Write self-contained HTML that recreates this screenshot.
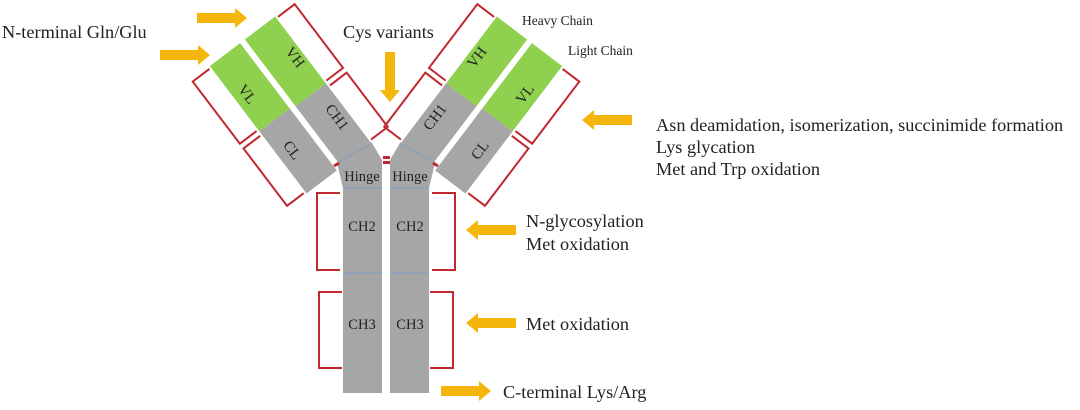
<!DOCTYPE html>
<html><head><meta charset="utf-8"><style>
html,body{margin:0;padding:0;background:#fff;width:1080px;height:410px;overflow:hidden}
svg{display:block}
text{font-family:"Liberation Serif",serif;fill:#222}
</style></head><body>
<svg width="1080" height="410" viewBox="0 0 1080 410" xmlns="http://www.w3.org/2000/svg">
<defs>
<g id="arm">
  <g transform="translate(260,28) rotate(52.8)">
    <rect x="0" y="-19" width="84" height="38" fill="#8fd14f"/>
    <rect x="84" y="-19" width="76" height="38" fill="#a6a6a6"/>
    <rect x="0" y="25" width="82" height="38" fill="#8fd14f"/>
    <rect x="82" y="25" width="78" height="38" fill="#a6a6a6"/>
    <path d="M2,-21 L2,-42 L82,-42 L82,-21" fill="none" stroke="#c0282d" stroke-width="2"/>
    <path d="M88,-21 L88,-42 L156,-42 L156,-21" fill="none" stroke="#c0282d" stroke-width="2"/>
    <path d="M2,65 L2,86 L80,86 L80,65" fill="none" stroke="#c0282d" stroke-width="2"/>
    <path d="M86,65 L86,86 L158,86 L158,65" fill="none" stroke="#c0282d" stroke-width="2"/>
  </g>
  <polygon points="337,163 372,143 382,160 382,188 343,188" fill="#a6a6a6"/>
  <line x1="337" y1="163" x2="372" y2="143" stroke="#7f9cc4" stroke-width="1"/>
  <rect x="343" y="165" width="39" height="228" fill="#a6a6a6"/>
  <line x1="343" y1="188" x2="382" y2="188" stroke="#7f9cc4" stroke-width="1"/>
  <line x1="343" y1="273" x2="382" y2="273" stroke="#7f9cc4" stroke-width="1"/>
  <path d="M340,193 L317,193 L317,270 L340,270" fill="none" stroke="#c0282d" stroke-width="2"/>
  <path d="M342,292 L319,292 L319,368 L342,368" fill="none" stroke="#c0282d" stroke-width="2"/>
  <line x1="334" y1="166" x2="339" y2="163" stroke="#c0282d" stroke-width="3"/>
</g>
<g id="arrR"><polygon points="0,-5 38,-5 38,-10 50,0 38,10 38,5 0,5" fill="#f5b60c"/></g>
</defs>
<use href="#arm"/>
<use href="#arm" transform="translate(772,0) scale(-1,1)"/>
<rect x="383" y="156" width="7" height="3" fill="#c0282d"/>
<rect x="383" y="161" width="7" height="3" fill="#c0282d"/>

<g font-size="15">
<text x="294" y="58" transform="rotate(52.8 294 58)" text-anchor="middle" dominant-baseline="middle">VH</text>
<text x="246" y="95" transform="rotate(52.8 246 95)" text-anchor="middle" dominant-baseline="middle">VL</text>
<text x="336" y="118" transform="rotate(52.8 336 118)" text-anchor="middle" dominant-baseline="middle">CH1</text>
<text x="291" y="151" transform="rotate(52.8 291 151)" text-anchor="middle" dominant-baseline="middle">CL</text>
<text x="478" y="58" transform="rotate(-52.8 478 58)" text-anchor="middle" dominant-baseline="middle">VH</text>
<text x="526" y="95" transform="rotate(-52.8 526 95)" text-anchor="middle" dominant-baseline="middle">VL</text>
<text x="436" y="118" transform="rotate(-52.8 436 118)" text-anchor="middle" dominant-baseline="middle">CH1</text>
<text x="481" y="151" transform="rotate(-52.8 481 151)" text-anchor="middle" dominant-baseline="middle">CL</text>
</g>
<g font-size="14.5">
<text x="362" y="181" text-anchor="middle">Hinge</text>
<text x="410" y="181" text-anchor="middle">Hinge</text>
<text x="362" y="231" text-anchor="middle">CH2</text>
<text x="410" y="231" text-anchor="middle">CH2</text>
<text x="362" y="329" text-anchor="middle">CH3</text>
<text x="410" y="329" text-anchor="middle">CH3</text>
</g>
<g font-size="13.5">
<text x="522" y="25">Heavy Chain</text>
<text x="568" y="55">Light Chain</text>
</g>

<use href="#arrR" transform="translate(197,18)"/>
<use href="#arrR" transform="translate(160,55)"/>
<use href="#arrR" transform="translate(390,52) rotate(90)"/>
<use href="#arrR" transform="translate(632,120) rotate(180)"/>
<use href="#arrR" transform="translate(516,230) rotate(180)"/>
<use href="#arrR" transform="translate(516,323) rotate(180)"/>
<use href="#arrR" transform="translate(441,391)"/>

<g font-size="18.3">
<text x="2" y="38">N-terminal Gln/Glu</text>
<text x="343" y="38">Cys variants</text>
<text x="656" y="131">Asn deamidation, isomerization, succinimide formation</text>
<text x="656" y="153">Lys glycation</text>
<text x="656" y="175">Met and Trp oxidation</text>
<text x="526" y="227">N-glycosylation</text>
<text x="526" y="250">Met oxidation</text>
<text x="526" y="330">Met oxidation</text>
<text x="503" y="398">C-terminal Lys/Arg</text>
</g>
</svg>
</body></html>
